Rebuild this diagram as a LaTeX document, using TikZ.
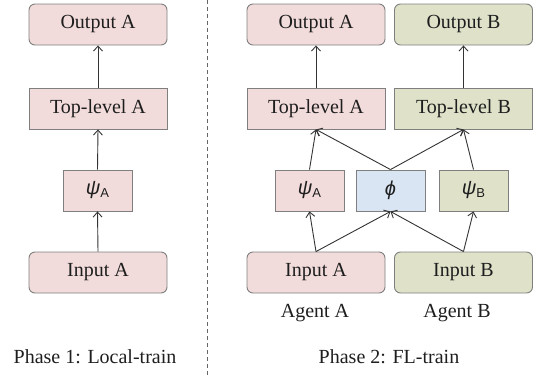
\documentclass[tikz,border=0pt]{standalone}
\usepackage{fontspec}
\setmainfont{Liberation Serif}
\setsansfont{Liberation Sans}
\newfontfamily\grkfont{Liberation Sans}
\usetikzlibrary{arrows.meta}
\definecolor{pinkf}{HTML}{F2DCDB}
\definecolor{greenf}{HTML}{DFE2C9}
\definecolor{bluef}{HTML}{DAE5F4}
\definecolor{edge}{HTML}{7F7F7F}
\definecolor{txt}{HTML}{1E1E1E}
\definecolor{arr}{HTML}{333333}
\newcommand{\grksym}[2]{{\grkfont\itshape #1}\raisebox{-3pt}{\grkfont\fontsize{13}{15}\selectfont #2}}
\tikzset{
  box/.style={draw=edge, line width=0.9pt, text=txt, minimum height=41pt, inner sep=0pt,
    font=\fontsize{20}{24}\selectfont},
  wide/.style={box, minimum width=138pt},
  narrow/.style={box, minimum width=69pt},
  rnd/.style={rounded corners=6pt},
  pinkbox/.style={fill=pinkf},
  greenbox/.style={fill=greenf},
  bluebox/.style={fill=bluef},
  arrow/.style={draw=arr, line width=0.9pt, -{Straight Barb[length=5pt,width=9pt,line width=0.9pt]}},
  lbl/.style={text=txt, font=\fontsize{20}{24}\selectfont},
}
\begin{document}
\begin{tikzpicture}[x=1pt,y=-1pt]
\useasboundingbox (0,0) rectangle (542,376);
% Phase 1
\node[wide, rnd, pinkbox] (outA1) at (98,24.5) {Output A};
\node[wide, pinkbox] (tlA1) at (98,108.5) {Top-level A};
\node[narrow, pinkbox] (psiA1) at (97.5,190.5) {\grksym{ψ}{A}};
\node[wide, rnd, pinkbox] (inA1) at (98,272.5) {Input A};
\draw[arrow] (tlA1.north) -- (outA1.south);
\draw[arrow] (psiA1.north) -- (tlA1.south);
\draw[arrow] (inA1.north) -- (psiA1.south);
\node[lbl] (ph1) at (95,357) {Phase 1: Local-train};
% divider
\coordinate (dtop) at (207,0);
\coordinate (dbot) at (207,376);
\draw[edge!80!black, line width=1pt, dash pattern=on 3.5pt off 3.5pt] (dtop) -- (dbot);
% Phase 2
\node[wide, rnd, pinkbox] (outA) at (316,24.5) {Output A};
\node[wide, rnd, greenbox] (outB) at (463.5,24.5) {Output B};
\node[wide, pinkbox] (tlA) at (316,108.5) {Top-level A};
\node[wide, greenbox] (tlB) at (463.5,108.5) {Top-level B};
\node[narrow, pinkbox] (psiA) at (309.5,190.5) {\grksym{ψ}{A}};
\node[narrow, bluebox] (phi) at (390.5,190.5) {{\grkfont\itshape ϕ}};
\node[narrow, greenbox] (psiB) at (473.5,190.5) {\grksym{ψ}{B}};
\node[wide, rnd, pinkbox] (inA) at (316,272.5) {Input A};
\node[wide, rnd, greenbox] (inB) at (463.5,272.5) {Input B};
\draw[arrow] (tlA.north) -- (outA.south);
\draw[arrow] (tlB.north) -- (outB.south);
\draw[arrow] (psiA.north) -- (tlA.south);
\draw[arrow] (phi.north) -- (tlA.south);
\draw[arrow] (phi.north) -- (tlB.south);
\draw[arrow] (psiB.north) -- (tlB.south);
\draw[arrow] (inA.north) -- (psiA.south);
\draw[arrow] (inA.north) -- (phi.south);
\draw[arrow] (inB.north) -- (phi.south);
\draw[arrow] (inB.north) -- (psiB.south);
\node[lbl] (agA) at (315,313) {Agent A};
\node[lbl] (agB) at (457,313) {Agent B};
\node[lbl] (ph2) at (389,357) {Phase 2: FL-train};
\end{tikzpicture}
\end{document}
